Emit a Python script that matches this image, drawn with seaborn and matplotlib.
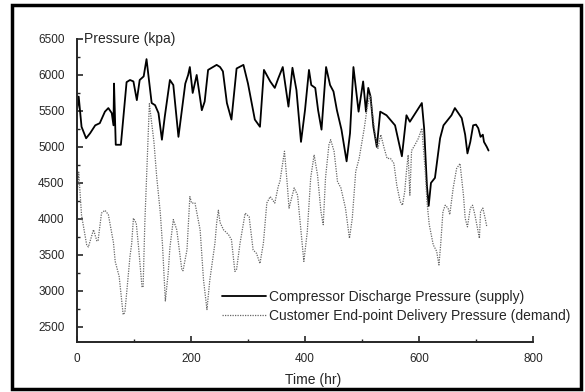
# supply vs demand pressure over time
import matplotlib
matplotlib.use("Agg")
import matplotlib.pyplot as plt
from matplotlib.patches import Rectangle
from matplotlib.ticker import MultipleLocator
import seaborn as sns

# Compressor discharge pressure (supply)
t_supply = [0, 3, 8, 16, 23, 32, 40, 49, 55, 61, 64, 65, 68, 77, 87, 93, 99, 105, 110, 117,
            122, 127, 131, 137, 143, 149, 154, 163, 169, 178, 184, 190, 195, 198, 203, 210,
            219, 224, 230, 245, 251, 256, 263, 271, 280, 292, 300, 312, 321, 328, 339, 347,
            353, 361, 371, 378, 385, 393, 400, 407, 411, 418, 423, 429, 437, 444, 450, 456,
            464, 473, 479, 485, 494, 502, 507, 511, 515, 520, 526, 532, 543, 558, 570, 578,
            584, 605, 609, 614, 617, 621, 628, 637, 643, 651, 657, 663, 669, 675, 681, 685,
            690, 695, 700, 704, 708, 712, 714, 719, 722]
p_supply = [5500, 5700, 5280, 5120, 5190, 5300, 5330, 5490, 5540, 5470, 5300, 5880, 5030, 5030,
            5900, 5930, 5910, 5650, 5930, 5980, 6220, 5880, 5610, 5580, 5470, 5100, 5420, 5930,
            5860, 5140, 5510, 5880, 6000, 6110, 5750, 6000, 5510, 5630, 6070, 6140, 6110, 6050,
            5610, 5380, 6090, 6140, 5880, 5380, 5280, 6070, 5910, 5820, 5950, 6110, 5560, 6100,
            5790, 5070, 5510, 6070, 5860, 5820, 5510, 5240, 6110, 5860, 5770, 5510, 5240, 4800,
            5190, 6110, 5490, 5910, 5490, 5820, 5700, 5280, 5000, 5490, 5440, 5300, 4870, 5440,
            5350, 5610, 5260, 4450, 4180, 4500, 4570, 5120, 5300, 5380, 5440, 5540, 5470, 5400,
            5170, 4910, 5070, 5300, 5310, 5260, 5140, 5170, 5070, 5000, 4950]

# Customer end-point delivery pressure (demand)
t_demand = [0, 3, 8, 17, 20, 29, 35, 37, 43, 49, 55, 64, 67, 74, 81, 84, 93, 96, 99, 104,
            108, 114, 116, 119, 127, 135, 140, 146, 150, 155, 160, 163, 169, 175, 181, 184,
            186, 193, 198, 201, 207, 216, 222, 228, 233, 242, 245, 248, 251, 257, 266, 271,
            277, 280, 286, 295, 302, 309, 315, 321, 327, 333, 339, 347, 353, 356, 364, 369,
            372, 381, 387, 393, 398, 404, 410, 416, 422, 428, 432, 436, 442, 445, 451, 457,
            463, 471, 478, 483, 489, 495, 504, 509, 514, 518, 524, 528, 533, 539, 544, 550,
            556, 561, 567, 571, 575, 578, 581, 584, 587, 593, 599, 605, 611, 614, 618, 625,
            631, 635, 638, 642, 646, 651, 654, 660, 666, 672, 678, 681, 685, 690, 694, 698,
            706, 708, 712, 716, 719]
p_demand = [4300, 4650, 4050, 3640, 3610, 3850, 3690, 3700, 4080, 4120, 4060, 3670, 3410, 3200,
            2670, 2700, 3480, 3660, 4010, 3940, 3610, 3060, 3050, 3940, 5600, 5070, 4570, 4100,
            3640, 2860, 3250, 3600, 3990, 3850, 3480, 3290, 3280, 3570, 4310, 4220, 4220, 3850,
            3150, 2740, 3150, 3660, 3940, 4120, 3950, 3850, 3780, 3710, 3270, 3300, 3660, 4080,
            4030, 3570, 3520, 3380, 3660, 4220, 4310, 4220, 4450, 4520, 4940, 4470, 4150, 4430,
            4330, 3820, 3410, 3820, 4570, 4890, 4610, 4100, 3920, 4570, 5030, 5100, 4940, 4520,
            4430, 4150, 3730, 4010, 4660, 4840, 5260, 5540, 5720, 5490, 5120, 4980, 5170, 4980,
            4840, 4840, 4770, 4470, 4240, 4190, 4380, 4660, 4890, 4330, 4950, 5030, 5120, 5260,
            4660, 4240, 3920, 3640, 3550, 3360, 3640, 4100, 4190, 4150, 4060, 4430, 4700, 4770,
            4330, 4010, 3890, 4150, 4190, 4060, 3730, 4100, 4150, 4010, 3890]

labels = ["Compressor Discharge Pressure (supply)",
          "Customer End-point Delivery Pressure (demand)"]

sns.set_style("ticks")
plt.rcParams["font.family"] = ["Liberation Sans", "DejaVu Sans"]

fig = plt.figure(figsize=(5.85, 3.92), dpi=100)
ax = fig.add_axes([0.1316, 0.1276, 0.7795, 0.7730])

sns.lineplot(x=t_supply, y=p_supply, ax=ax, color="black", lw=1.3, label=labels[0])
sns.lineplot(x=t_demand, y=p_demand, ax=ax, color="0.4", lw=0.9,
             linestyle=(0, (1, 1)), label=labels[1])

ax.set_xlim(0, 800)
ax.set_ylim(2290, 6500)
ax.xaxis.set_major_locator(MultipleLocator(200))
ax.xaxis.set_minor_locator(MultipleLocator(100))
ax.yaxis.set_major_locator(MultipleLocator(500))
ax.yaxis.set_minor_locator(MultipleLocator(250))
ax.set_yticks(range(2500, 6501, 500))
ax.tick_params(direction="in", which="major", length=4, width=1.2, labelsize=8.5)
ax.tick_params(direction="in", which="minor", length=2.5, width=1)
ax.tick_params(axis="y", which="major", pad=9)
ax.tick_params(axis="x", which="major", pad=8)
for side in ["top", "right"]:
    ax.spines[side].set_visible(False)
for side in ["left", "bottom"]:
    ax.spines[side].set_linewidth(1.4)

ax.set_xlabel("Time (hr)", fontsize=10)
ax.xaxis.set_label_coords(0.518, -0.102)
ax.set_ylabel("")
ax.text(0.015, 1.0, "Pressure (kpa)", transform=ax.transAxes, fontsize=10,
        ha="left", va="center")

ax.legend(loc="center left", bbox_to_anchor=(0.318, 0.117), frameon=False,
          fontsize=10, handlelength=3.2, handletextpad=0.2, borderpad=0,
          borderaxespad=0, labelspacing=0.35)

fig.add_artist(Rectangle((12 / 585, 3 / 392), 569 / 585, 384 / 392,
                         transform=fig.transFigure, fill=False, lw=2.5, ec="black"))

fig.savefig("out.png", dpi=100)
